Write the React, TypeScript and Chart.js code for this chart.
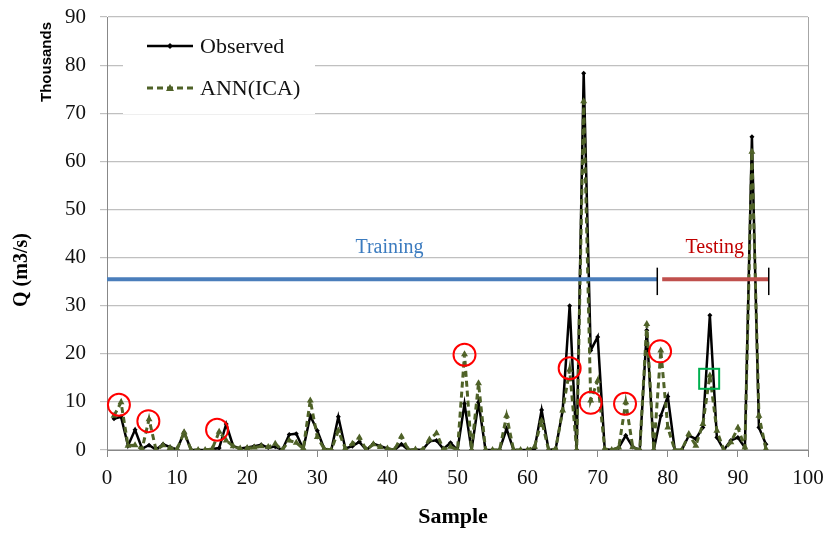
import React, { useEffect, useRef } from "react";
import { Chart, registerables } from "chart.js";
Chart.register(...registerables);

const samples = [
  1, 2, 3, 4, 5, 6, 7, 8, 9, 10, 11, 12, 13, 14, 15, 16, 17, 18, 19, 20,
  21, 22, 23, 24, 25, 26, 27, 28, 29, 30, 31, 32, 33, 34, 35, 36, 37, 38, 39, 40,
  41, 42, 43, 44, 45, 46, 47, 48, 49, 50, 51, 52, 53, 54, 55, 56, 57, 58, 59, 60,
  61, 62, 63, 64, 65, 66, 67, 68, 69, 70, 71, 72, 73, 74, 75, 76, 77, 78, 79, 80,
  81, 82, 83, 84, 85, 86, 87, 88, 89, 90, 91, 92, 93, 94,
];

// Q in thousands of m3/s
const observed = [
  6.5, 6.9, 0.9, 4.2, 0.3, 1.0, 0.1, 1.2, 0.6, 0.1, 3.7, 0, 0, 0, 0.2, 0.4, 5.4, 0.8, 0.3, 0.5,
  0.8, 1.1, 0.5, 0.7, 0, 3.2, 3.4, 0.2, 7.1, 4.0, 0.2, 0, 6.9, 0.3, 0.8, 1.7, 0, 1.3, 0.8, 0.3,
  0, 1.2, 0, 0.1, 0, 1.8, 2.0, 0.2, 1.5, 0, 9.6, 0, 9.9, 0, 0, 0, 4.4, 0, 0, 0,
  0.3, 8.3, 0, 0.2, 8.2, 30.0, 0, 78.3, 20.7, 23.5, 0.2, 0, 0.5, 3.0, 0.6, 0, 24.9, 0, 7.1, 11.1,
  0, 0, 3.0, 2.3, 4.7, 28.0, 2.6, 0, 2.0, 2.6, 0.5, 65.1, 4.7, 1.2,
];

const annIca = [
  7.1, 9.9, 0.9, 1.0, 0.2, 6.4, 0, 1.0, 0.4, 0.2, 3.7, 0, 0, 0, 0.2, 3.8, 2.0, 0.8, 0.3, 0.4,
  0.5, 0.8, 0.6, 1.3, 0, 2.0, 1.5, 0.3, 10.3, 2.7, 0.2, 0, 4.0, 0.3, 1.3, 2.6, 0, 1.2, 0.6, 0.3,
  0, 2.8, 0, 0.1, 0, 2.2, 3.5, 0.1, 0.7, 0, 19.9, 0, 13.9, 0, 0, 0, 7.1, 0, 0, 0,
  0.7, 6.1, 0, 0.2, 8.2, 16.7, 0, 72.5, 10.3, 14.4, 0.2, 0, 0.5, 9.9, 0.6, 0, 26.2, 0, 20.7, 4.7,
  0, 0, 3.3, 0.9, 5.4, 15.5, 4.0, 0, 1.6, 4.6, 0.5, 62.0, 7.1, 0.2,
];

const xTicks = [0, 10, 20, 30, 40, 50, 60, 70, 80, 90, 100];
const yTicks = [0, 10, 20, 30, 40, 50, 60, 70, 80, 90];

// annotations (data coordinates)
const circleX = [1.7, 5.9, 15.7, 51, 66, 69, 73.9, 78.9];
const circleY = [9.4, 6.0, 4.2, 19.8, 17.0, 9.8, 9.6, 20.5];
const squareX = [85.9];
const squareY = [14.8];
const phaseLevel = 35.5;
const trainingRange = [0, 78.5];
const testingRange = [79.2, 94.4];
const phaseLabels = ["Training", "Testing"];
const phaseLabelX = [40.3, 86.7];
const phaseLabelY = 42;

const OLIVE = "#4f6228";
const SERIF = "'Liberation Serif'";

const overlayPlugin = {
  id: "overlay",
  afterDatasetsDraw(chart: any) {
    const { ctx, chartArea, scales } = chart;
    const x = scales.x;
    const y = scales.y;
    ctx.save();

    // right border of plot area
    ctx.strokeStyle = "#a6a6a6";
    ctx.lineWidth = 1;
    ctx.beginPath();
    ctx.moveTo(Math.round(chartArea.right) + 0.5, chartArea.top);
    ctx.lineTo(Math.round(chartArea.right) + 0.5, chartArea.bottom);
    ctx.stroke();

    // phase lines
    const py = y.getPixelForValue(phaseLevel);
    ctx.lineCap = "butt";
    ctx.lineWidth = 4;
    ctx.strokeStyle = "#4a7ebb";
    ctx.beginPath();
    ctx.moveTo(x.getPixelForValue(trainingRange[0]), py);
    ctx.lineTo(x.getPixelForValue(trainingRange[1]), py);
    ctx.stroke();
    ctx.strokeStyle = "#c0504d";
    ctx.beginPath();
    ctx.moveTo(x.getPixelForValue(testingRange[0]), py);
    ctx.lineTo(x.getPixelForValue(testingRange[1]), py);
    ctx.stroke();
    ctx.strokeStyle = "#000";
    ctx.lineWidth = 1.5;
    [trainingRange[1], testingRange[1]].forEach((v) => {
      const px = x.getPixelForValue(v);
      ctx.beginPath();
      ctx.moveTo(px, y.getPixelForValue(phaseLevel + 2.4));
      ctx.lineTo(px, y.getPixelForValue(phaseLevel - 3.3));
      ctx.stroke();
    });
    ctx.font = `20px ${SERIF}`;
    ctx.textAlign = "center";
    ctx.textBaseline = "middle";
    ctx.fillStyle = "#3b7bbf";
    ctx.fillText(phaseLabels[0], x.getPixelForValue(phaseLabelX[0]), y.getPixelForValue(phaseLabelY));
    ctx.fillStyle = "#c00000";
    ctx.fillText(phaseLabels[1], x.getPixelForValue(phaseLabelX[1]), y.getPixelForValue(phaseLabelY));

    // red circles
    ctx.strokeStyle = "#ff0000";
    ctx.lineWidth = 2;
    circleX.forEach((cx, i) => {
      ctx.beginPath();
      ctx.arc(x.getPixelForValue(cx), y.getPixelForValue(circleY[i]), 11, 0, Math.PI * 2);
      ctx.stroke();
    });
    // green square
    ctx.strokeStyle = "#00b050";
    squareX.forEach((sx, i) => {
      const px = x.getPixelForValue(sx);
      const pyy = y.getPixelForValue(squareY[i]);
      ctx.strokeRect(px - 10, pyy - 10, 20, 20);
    });

    // legend
    const lx = chartArea.left + 16;
    const ly = chartArea.top + 7;
    ctx.fillStyle = "#fff";
    ctx.fillRect(lx, ly, 192, 90);
    const rows = [
      { label: "Observed", color: "#000", dash: [], style: "diamond", yy: ly + 22 },
      { label: "ANN(ICA)", color: OLIVE, dash: [6, 4], style: "triangle", yy: ly + 64 },
    ];
    rows.forEach((r) => {
      ctx.strokeStyle = r.color;
      ctx.fillStyle = r.color;
      ctx.lineWidth = r.style === "diamond" ? 2.5 : 3;
      ctx.setLineDash(r.dash);
      ctx.beginPath();
      ctx.moveTo(lx + 24, r.yy);
      ctx.lineTo(lx + 70, r.yy);
      ctx.stroke();
      ctx.setLineDash([]);
      const mx = lx + 47;
      ctx.beginPath();
      if (r.style === "diamond") {
        ctx.moveTo(mx, r.yy - 3);
        ctx.lineTo(mx + 3, r.yy);
        ctx.lineTo(mx, r.yy + 3);
        ctx.lineTo(mx - 3, r.yy);
      } else {
        ctx.moveTo(mx, r.yy - 4);
        ctx.lineTo(mx + 4, r.yy + 3);
        ctx.lineTo(mx - 4, r.yy + 3);
      }
      ctx.closePath();
      ctx.fill();
      ctx.fillStyle = "#111";
      ctx.font = `22px ${SERIF}`;
      ctx.textAlign = "left";
      ctx.textBaseline = "middle";
      ctx.fillText(r.label, lx + 77, r.yy + 1);
    });

    // axis titles
    ctx.fillStyle = "#000";
    ctx.textAlign = "center";
    ctx.textBaseline = "alphabetic";
    ctx.font = `bold 22px ${SERIF}`;
    ctx.fillText("Sample", 453, 523);
    ctx.textBaseline = "middle";
    ctx.save();
    ctx.translate(22, 270);
    ctx.rotate(-Math.PI / 2);
    ctx.font = `bold 20px ${SERIF}`;
    ctx.fillText("Q (m3/s)", 0, 0);
    ctx.restore();
    ctx.save();
    ctx.translate(47, 62);
    ctx.rotate(-Math.PI / 2);
    ctx.font = "bold 15px 'Liberation Sans'";
    ctx.fillText("Thousands", 0, 0);
    ctx.restore();

    ctx.restore();
  },
};

export default function App() {
  const ref = useRef<HTMLCanvasElement | null>(null);
  useEffect(() => {
    document.body.style.margin = "0";
    const canvas = ref.current;
    if (!canvas) return;
    const chart = new Chart(canvas, {
      type: "line",
      data: {
        datasets: [
          {
            label: "Observed",
            data: samples.map((s, i) => ({ x: s, y: observed[i] })),
            borderColor: "#000",
            backgroundColor: "#000",
            borderWidth: 2.5,
            pointStyle: "rectRot",
            pointRadius: 2.5,
            pointBorderWidth: 0,
            tension: 0,
            order: 1,
          },
          {
            label: "ANN(ICA)",
            data: samples.map((s, i) => ({ x: s, y: annIca[i] })),
            borderColor: OLIVE,
            backgroundColor: OLIVE,
            borderWidth: 3,
            borderDash: [6, 4],
            pointStyle: "triangle",
            pointRadius: 4,
            pointBorderWidth: 0,
            tension: 0,
            order: 0,
          },
        ],
      },
      options: {
        animation: false,
        responsive: false,
        layout: { padding: { left: 0, top: 17, right: 19, bottom: 0 } },
        plugins: { legend: { display: false }, tooltip: { enabled: false } },
        scales: {
          x: {
            type: "linear",
            min: 0,
            max: 100,
            afterBuildTicks: (s: any) => {
              s.ticks = xTicks.map((v) => ({ value: v }));
            },
            afterFit: (s: any) => {
              s.height = 83;
              s.paddingLeft = 0;
              s.paddingRight = 0;
            },
            ticks: {
              font: { family: SERIF, size: 21 },
              color: "#111",
              padding: 9,
              maxRotation: 0,
            },
            grid: { drawOnChartArea: false, drawTicks: true, tickLength: 7, color: "#888" },
            border: { color: "#888", width: 1 },
          },
          y: {
            type: "linear",
            min: 0,
            max: 90,
            afterBuildTicks: (s: any) => {
              s.ticks = yTicks.map((v) => ({ value: v }));
            },
            afterFit: (s: any) => {
              s.width = 107;
              s.paddingTop = 0;
              s.paddingBottom = 0;
            },
            ticks: {
              font: { family: SERIF, size: 21 },
              color: "#111",
              padding: 14,
            },
            grid: { color: "#c0c0c0", lineWidth: 1.2, tickLength: 7 },
            border: { color: "#888", width: 1 },
          },
        },
      },
      plugins: [overlayPlugin],
    } as any);
    return () => chart.destroy();
  }, []);
  return (
    <div style={{ width: 827, height: 533 }}>
      <canvas ref={ref} width={827} height={533} style={{ display: "block" }} />
    </div>
  );
}
